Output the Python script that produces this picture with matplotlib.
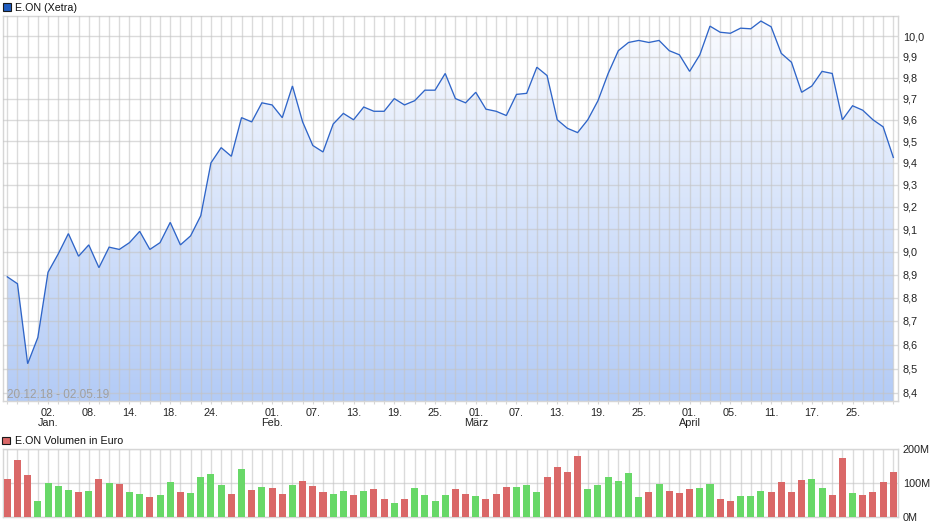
import numpy as np
import pandas as pd
import matplotlib
matplotlib.use('Agg')
import matplotlib.pyplot as plt
from matplotlib.patches import Polygon, Rectangle
from matplotlib.colors import LinearSegmentedColormap
from matplotlib.ticker import NullLocator, FixedLocator, FixedFormatter

plt.rcParams['font.family'] = ['Liberation Sans', 'DejaVu Sans']

# ---------------- data ----------------
holidays = ['2018-12-24', '2018-12-25', '2018-12-26', '2018-12-31',
            '2019-01-01', '2019-04-19', '2019-04-22', '2019-05-01']
dates = pd.bdate_range('2018-12-20', '2019-05-02')
dates = dates[~dates.isin(pd.to_datetime(holidays))]

price = [8.89, 8.86, 8.52, 8.63, 8.91, 8.99, 9.08, 8.98, 9.03, 8.93,
         9.02, 9.01, 9.04, 9.09, 9.01, 9.04, 9.13, 9.03, 9.07, 9.16,
         9.40, 9.47, 9.43, 9.61, 9.59, 9.68, 9.67, 9.61, 9.76, 9.59,
         9.48, 9.45, 9.58, 9.63, 9.60, 9.66, 9.64, 9.64, 9.70, 9.67,
         9.69, 9.74, 9.74, 9.82, 9.70, 9.68, 9.73, 9.65, 9.64, 9.62,
         9.72, 9.725, 9.85, 9.81, 9.60, 9.56, 9.54, 9.60, 9.69, 9.82,
         9.93, 9.97, 9.98, 9.97, 9.98, 9.93, 9.91, 9.83, 9.91, 10.05,
         10.02, 10.015, 10.04, 10.037, 10.075, 10.047, 9.917, 9.874, 9.73, 9.76,
         9.83, 9.82, 9.60, 9.666, 9.645, 9.60, 9.567, 9.425]

volume_m = [113, 168, 123, 48, 101, 90, 78, 72, 75, 111,
            99, 96, 72, 66, 57, 63, 102, 72, 69, 117,
            126, 93, 66, 141, 78, 87, 84, 66, 93, 105,
            90, 72, 66, 75, 63, 75, 81, 54, 42, 54,
            84, 63, 48, 63, 81, 66, 60, 54, 66, 87,
            87, 93, 72, 117, 147, 132, 180, 81, 93, 117,
            105, 129, 57, 72, 96, 75, 69, 81, 84, 96,
            54, 48, 60, 60, 75, 72, 102, 72, 108, 111,
            84, 63, 174, 69, 63, 72, 102, 132]

up_day = [0, 0, 0, 1, 1, 1, 1, 0, 1, 0,
          1, 0, 1, 1, 0, 1, 1, 0, 1, 1,
          1, 1, 0, 1, 0, 1, 0, 0, 1, 0,
          0, 0, 1, 1, 0, 1, 0, 0, 1, 0,
          1, 1, 1, 1, 0, 0, 1, 0, 0, 0,
          1, 1, 1, 0, 0, 0, 0, 1, 1, 1,
          1, 1, 1, 0, 1, 0, 0, 0, 1, 1,
          0, 0, 1, 1, 1, 0, 0, 0, 0, 1,
          1, 0, 0, 1, 0, 0, 0, 0]

tick_dates = ['2019-01-02', '2019-01-08', '2019-01-14', '2019-01-18', '2019-01-24',
              '2019-02-01', '2019-02-07', '2019-02-13', '2019-02-19', '2019-02-25',
              '2019-03-01', '2019-03-07', '2019-03-13', '2019-03-19', '2019-03-25',
              '2019-04-01', '2019-04-05', '2019-04-11', '2019-04-17', '2019-04-25']
month_names = {1: 'Jan.', 2: 'Feb.', 3: 'März', 4: 'April'}
price_ticks = [8.4, 8.5, 8.6, 8.7, 8.8, 8.9, 9.0, 9.1, 9.2, 9.3,
               9.4, 9.5, 9.6, 9.7, 9.8, 9.9, 10.0]
volume_ticks = [0, 100, 200]
volume_labels = ['0M', '100M', '200M']
title_price = 'E.ON (Xetra)'
title_volume = 'E.ON Volumen in Euro'
range_text = '20.12.18 - 02.05.19'

# ---------------- figure ----------------
W, H = 940, 526
fig = plt.figure(figsize=(W / 100, H / 100), dpi=100)
fig.patch.set_facecolor('white')


def rect(l, t, r, b):
    return [l / W, 1 - b / H, (r - l) / W, (b - t) / H]


ax = fig.add_axes(rect(2.5, 16, 898.3, 401))
axv = fig.add_axes(rect(2.5, 449.3, 898.3, 516.7))

n = len(price)
x = np.arange(n)
xlim = (-0.47, n - 1 + 0.49)
ylo, yhi = 8.366, 10.10

grid_col = '#c4c4c4'
spine_col = '#d6d6d6'
text_col = '#222222'

# ---- price panel ----
ax.set_yscale('log')
cmap = LinearSegmentedColormap.from_list('grad', ['#fbfcff', '#b3cbf6'])
grad = np.linspace(0, 1, 256).reshape(-1, 1)
im = ax.imshow(grad, aspect='auto', cmap=cmap, extent=(0, 1, 0, 1),
               transform=ax.transAxes, zorder=1, interpolation='bilinear')
verts = list(zip(x, price)) + [(x[-1], ylo), (x[0], ylo)]
poly = Polygon(verts, closed=True, transform=ax.transData,
               facecolor='none', edgecolor='none')
ax.add_patch(poly)
im.set_clip_path(poly)

ax.plot(x, price, color='#2f65c8', lw=0.95, zorder=3, solid_joinstyle='miter')

ax.set_xlim(*xlim)
ax.set_ylim(ylo, yhi)
ax.set_autoscale_on(False)

ax.yaxis.set_major_locator(FixedLocator(price_ticks))
ax.yaxis.set_major_formatter(FixedFormatter([f'{v:.1f}'.replace('.', ',') for v in price_ticks]))
ax.yaxis.set_minor_locator(NullLocator())
ax.yaxis.tick_right()

tick_idx = {pd.Timestamp(d): i for i, d in enumerate(dates)}
xlabels = [''] * n
seen_months = set()
for d in tick_dates:
    ts = pd.Timestamp(d)
    i = tick_idx[ts]
    lab = f'{ts.day:02d}.'
    if ts.month not in seen_months:
        seen_months.add(ts.month)
        lab += '\n' + month_names[ts.month]
    xlabels[i] = lab
ax.set_xticks(x)
ax.set_xticklabels(xlabels)
for t in ax.get_xticklabels():
    t.set_linespacing(1.0)

ax.grid(True, which='major', color=grid_col, lw=1.0, alpha=0.6)
ax.set_axisbelow(False)
ax.tick_params(axis='y', length=0, pad=3.3, labelsize=7.8, labelcolor=text_col)
ax.tick_params(axis='x', length=2.5, width=0.8, color=spine_col, pad=2.5,
               labelsize=7.8, labelcolor=text_col)
for s in ax.spines.values():
    s.set_color(spine_col)
    s.set_linewidth(1.0)

ax.text((7.3 - 2.5) / 895.8, (401 - 395) / 385, range_text, transform=ax.transAxes,
        fontsize=8.5, color='#a0a0a0', ha='left', va='center', zorder=4)

# ---- volume panel ----
colors = ['#68d868' if u else '#da6868' for u in up_day]
axv.bar(x, volume_m, width=0.69, color=colors, zorder=3, linewidth=0)
axv.set_xlim(*xlim)
axv.set_ylim(0, 200)
axv.set_xticks(x)
axv.set_xticklabels([])
axv.set_yticks(volume_ticks)
axv.set_yticklabels(volume_labels)
axv.yaxis.tick_right()
axv.grid(True, color=grid_col, lw=1.0, alpha=0.6)
axv.set_axisbelow(True)
axv.tick_params(axis='y', length=0, pad=3.3, labelsize=7.8, labelcolor=text_col)
axv.tick_params(axis='x', length=0)
for s in axv.spines.values():
    s.set_color(spine_col)
    s.set_linewidth(1.0)

# ---- legends ----
fig.add_artist(Rectangle((3.3 / W, 1 - 10.5 / H), 7.4 / W, 7.4 / H,
                         transform=fig.transFigure, facecolor='#1f5cc0',
                         edgecolor='#1a1a1a', lw=0.8))
fig.text(15 / W, 1 - 10.6 / H, title_price, fontsize=7.7, color='#111111',
         ha='left', va='baseline')
fig.add_artist(Rectangle((2.3 / W, 1 - 444.2 / H), 7.4 / W, 7.4 / H,
                         transform=fig.transFigure, facecolor='#da6868',
                         edgecolor='#1a1a1a', lw=0.8))
fig.text(15 / W, 1 - 444.2 / H, title_volume, fontsize=7.7, color='#111111',
         ha='left', va='baseline')

fig.savefig('out.png', dpi=100, facecolor='white')
